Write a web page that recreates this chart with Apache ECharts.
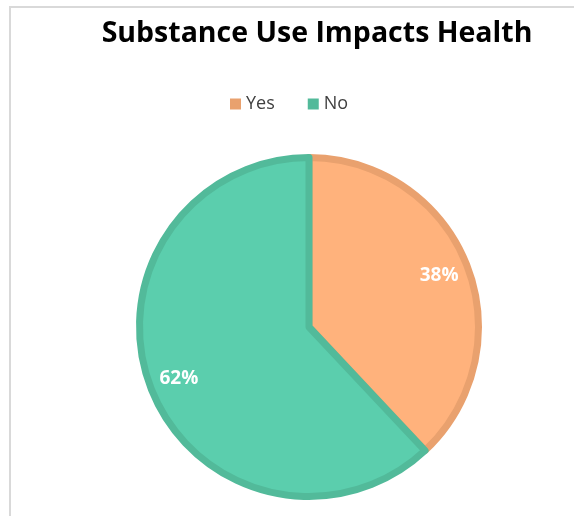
<!DOCTYPE html>
<html>
<head>
<meta charset="utf-8">
<style>
  html, body { margin: 0; padding: 0; background: #ffffff; }
  #chart { width: 574px; height: 516px; }
</style>
<script src="https://cdn.jsdelivr.net/npm/echarts@6/dist/echarts.min.js"></script>
</head>
<body>
<div id="chart"></div>
<script>
// Survey answers: does substance use impact health?
const categories = ['Yes', 'No'];
const values = [38, 62];
const fillColors = ['#FFB27C', '#5BCEAD'];
const edgeColors = ['#E9A16E', '#52BA9A'];

const slices = categories.map((name, i) => ({
  name: name,
  value: values[i],
  itemStyle: { color: fillColors[i], borderColor: edgeColors[i] }
}));

const chart = echarts.init(document.getElementById('chart'));
chart.setOption({
  animation: false,
  backgroundColor: '#ffffff',
  graphic: [{
    type: 'rect',
    shape: { x: 10, y: 7, width: 700, height: 700 },
    style: { fill: 'none', stroke: '#d9d9d9', lineWidth: 2 },
    silent: true,
    z: -10
  }],
  title: {
    text: 'Substance Use Impacts Health',
    left: 312,
    textAlign: 'center',
    top: 14,
    textStyle: {
      fontFamily: 'Open Sans',
      fontWeight: 'bold',
      fontSize: 28.5,
      color: '#000000'
    }
  },
  legend: {
    data: categories.map((name, i) => ({
      name: name,
      itemStyle: { color: edgeColors[i], borderWidth: 0 }
    })),
    left: 225,
    top: 90,
    icon: 'rect',
    itemWidth: 11,
    itemHeight: 11,
    itemGap: 33,
    textStyle: { fontFamily: 'Open Sans', fontSize: 18, color: '#404040' }
  },
  series: [
    {
      type: 'pie',
      center: [309, 327],
      radius: 169.5,
      startAngle: 90,
      clockwise: true,
      silent: true,
      label: { show: false },
      labelLine: { show: false },
      itemStyle: { borderWidth: 7 },
      data: slices
    },
    {
      // transparent ring that only carries the percentage labels
      type: 'pie',
      center: [309, 327],
      radius: [101, 173],
      startAngle: 90,
      clockwise: true,
      silent: true,
      legendHoverLink: false,
      itemStyle: { color: 'rgba(0,0,0,0)', borderWidth: 0 },
      label: {
        show: true,
        position: 'inside',
        formatter: '{c}%',
        fontFamily: 'Open Sans',
        fontWeight: 'bold',
        fontSize: 19,
        color: '#ffffff'
      },
      labelLine: { show: false },
      data: categories.map((name, i) => ({ name: name, value: values[i] }))
    }
  ]
});
</script>
</body>
</html>
